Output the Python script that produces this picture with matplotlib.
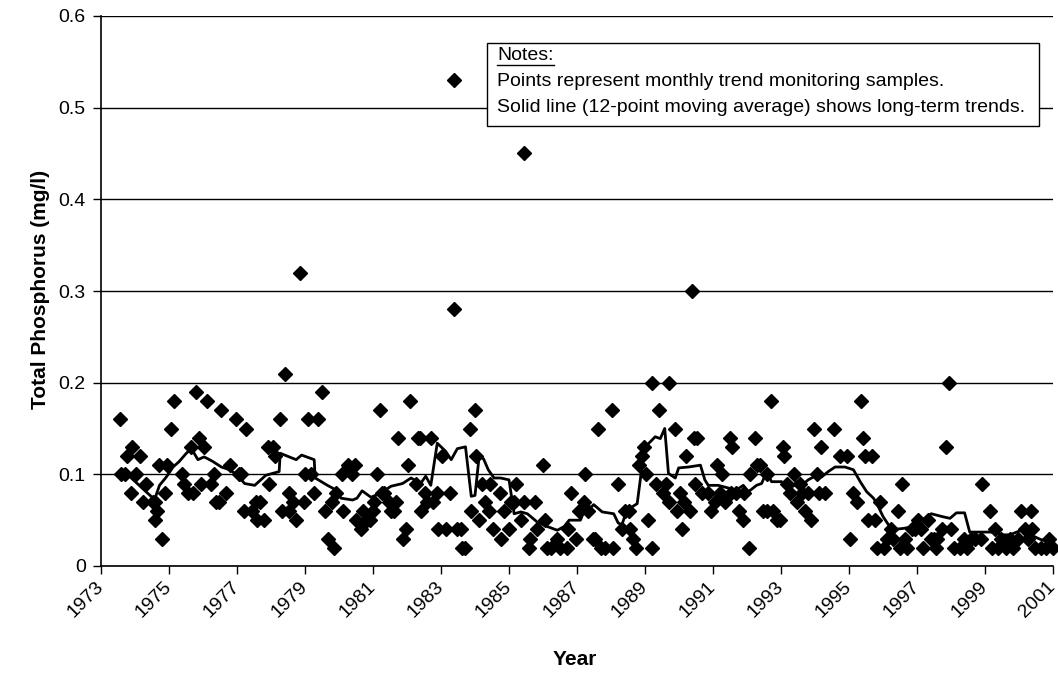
import matplotlib
matplotlib.use("Agg")
import matplotlib.pyplot as plt
from matplotlib.lines import Line2D

plt.rcParams['font.family'] = ['Liberation Sans', 'DejaVu Sans']

# monthly samples (decimal year, total phosphorus mg/l)
sample_year = [
    1973.56, 1973.58, 1973.71, 1973.77, 1973.87, 1973.91, 1974.04, 1974.14, 1974.24, 1974.33,
    1974.53, 1974.58, 1974.60, 1974.65, 1974.72, 1974.80, 1974.88, 1974.94, 1975.07, 1975.16,
    1975.38, 1975.44, 1975.56, 1975.66, 1975.70, 1975.79, 1975.88, 1975.95, 1976.03, 1976.11,
    1976.23, 1976.31, 1976.39, 1976.46, 1976.54, 1976.67, 1976.80, 1976.98, 1977.05, 1977.13,
    1977.20, 1977.26, 1977.44, 1977.57, 1977.60, 1977.68, 1977.80, 1977.90, 1977.95, 1978.05,
    1978.13, 1978.26, 1978.32, 1978.41, 1978.52, 1978.54, 1978.66, 1978.74, 1978.85, 1978.96,
    1979.01, 1979.08, 1979.18, 1979.27, 1979.37, 1979.51, 1979.60, 1979.68, 1979.79, 1979.86,
    1979.91, 1980.09, 1980.12, 1980.25, 1980.37, 1980.46, 1980.50, 1980.65, 1980.70, 1980.82,
    1980.91, 1980.99, 1981.03, 1981.11, 1981.21, 1981.26, 1981.33, 1981.48, 1981.53, 1981.63,
    1981.68, 1981.74, 1981.87, 1981.97, 1982.02, 1982.10, 1982.26, 1982.31, 1982.38, 1982.42,
    1982.53, 1982.60, 1982.70, 1982.77, 1982.89, 1982.91, 1983.04, 1983.14, 1983.26, 1983.37,
    1983.37, 1983.46, 1983.58, 1983.63, 1983.72, 1983.85, 1983.89, 1983.99, 1984.02, 1984.12,
    1984.21, 1984.29, 1984.41, 1984.44, 1984.54, 1985.45, 1984.73, 1984.75, 1984.85, 1985.00,
    1985.05, 1985.15, 1985.22, 1985.34, 1985.44, 1985.59, 1985.62, 1985.75, 1985.83, 1986.01,
    1986.05, 1986.13, 1986.23, 1986.42, 1986.50, 1986.71, 1986.74, 1986.81, 1986.97, 1987.07,
    1987.20, 1987.24, 1987.32, 1987.46, 1987.52, 1987.62, 1987.72, 1987.83, 1988.03, 1988.05,
    1988.21, 1988.32, 1988.42, 1988.54, 1988.57, 1988.64, 1988.74, 1988.81, 1988.91, 1988.96,
    1989.03, 1989.09, 1989.21, 1989.21, 1989.32, 1989.42, 1989.52, 1989.62, 1989.72, 1989.72,
    1989.89, 1989.94, 1990.02, 1990.09, 1990.14, 1990.21, 1990.33, 1990.38, 1990.43, 1990.48,
    1990.53, 1990.68, 1990.85, 1990.95, 1991.05, 1991.12, 1991.21, 1991.26, 1991.36, 1991.51,
    1991.54, 1991.56, 1991.69, 1991.77, 1991.87, 1991.91, 1992.07, 1992.09, 1992.24, 1992.28,
    1992.38, 1992.48, 1992.58, 1992.60, 1992.70, 1992.77, 1992.89, 1992.97, 1993.05, 1993.09,
    1993.19, 1993.26, 1993.38, 1993.46, 1993.56, 1993.61, 1993.71, 1993.80, 1993.87, 1993.97,
    1994.07, 1994.13, 1994.19, 1994.29, 1994.56, 1994.74, 1994.93, 1995.03, 1995.11, 1995.24,
    1995.34, 1995.42, 1995.47, 1995.57, 1995.67, 1995.76, 1995.83, 1995.91, 1996.03, 1996.11,
    1996.23, 1996.29, 1996.44, 1996.49, 1996.56, 1996.64, 1996.71, 1996.85, 1996.93, 1997.03,
    1997.13, 1997.18, 1997.32, 1997.40, 1997.51, 1997.57, 1997.60, 1997.74, 1997.86, 1997.94,
    1998.01, 1998.09, 1998.25, 1998.38, 1998.48, 1998.60, 1998.71, 1998.87, 1998.91, 1999.14,
    1999.20, 1999.30, 1999.38, 1999.48, 1999.63, 1999.73, 1999.82, 1999.97, 2000.05, 2000.17,
    2000.26, 2000.34, 2000.38, 2000.46, 2000.64, 2000.80, 2000.87, 2001.00,
]
sample_tp = [
    0.16, 0.10, 0.10, 0.12, 0.08, 0.13, 0.10, 0.12, 0.07, 0.09,
    0.07, 0.05, 0.07, 0.06, 0.11, 0.03, 0.08, 0.11, 0.15, 0.18,
    0.10, 0.09, 0.08, 0.13, 0.08, 0.19, 0.14, 0.09, 0.13, 0.18,
    0.09, 0.10, 0.07, 0.07, 0.17, 0.08, 0.11, 0.16, 0.10, 0.10,
    0.06, 0.15, 0.06, 0.07, 0.05, 0.07, 0.05, 0.13, 0.09, 0.13,
    0.12, 0.16, 0.06, 0.21, 0.06, 0.08, 0.07, 0.05, 0.32, 0.07,
    0.10, 0.16, 0.10, 0.08, 0.16, 0.19, 0.06, 0.03, 0.07, 0.02,
    0.08, 0.10, 0.06, 0.11, 0.10, 0.11, 0.05, 0.04, 0.06, 0.05,
    0.05, 0.06, 0.07, 0.10, 0.17, 0.08, 0.08, 0.07, 0.06, 0.06,
    0.07, 0.14, 0.03, 0.04, 0.11, 0.18, 0.09, 0.14, 0.14, 0.06,
    0.08, 0.07, 0.14, 0.07, 0.08, 0.04, 0.12, 0.04, 0.08, 0.53,
    0.28, 0.04, 0.04, 0.02, 0.02, 0.15, 0.06, 0.17, 0.12, 0.05,
    0.09, 0.07, 0.06, 0.09, 0.04, 0.45, 0.08, 0.03, 0.06, 0.04,
    0.07, 0.07, 0.09, 0.05, 0.07, 0.02, 0.03, 0.07, 0.04, 0.11,
    0.05, 0.02, 0.02, 0.03, 0.02, 0.02, 0.04, 0.08, 0.03, 0.06,
    0.07, 0.10, 0.06, 0.03, 0.03, 0.15, 0.02, 0.02, 0.17, 0.02,
    0.09, 0.04, 0.06, 0.06, 0.04, 0.03, 0.02, 0.11, 0.12, 0.13,
    0.10, 0.05, 0.02, 0.20, 0.09, 0.17, 0.08, 0.09, 0.20, 0.07,
    0.15, 0.06, 0.08, 0.04, 0.07, 0.12, 0.06, 0.30, 0.14, 0.09,
    0.14, 0.08, 0.08, 0.06, 0.07, 0.11, 0.08, 0.10, 0.07, 0.14,
    0.08, 0.13, 0.08, 0.06, 0.05, 0.08, 0.02, 0.10, 0.14, 0.11,
    0.11, 0.06, 0.06, 0.10, 0.18, 0.06, 0.05, 0.05, 0.13, 0.12,
    0.09, 0.08, 0.10, 0.07, 0.09, 0.08, 0.06, 0.08, 0.05, 0.15,
    0.10, 0.08, 0.13, 0.08, 0.15, 0.12, 0.12, 0.03, 0.08, 0.07,
    0.18, 0.14, 0.12, 0.05, 0.12, 0.05, 0.02, 0.07, 0.02, 0.03,
    0.04, 0.03, 0.06, 0.02, 0.09, 0.03, 0.02, 0.04, 0.04, 0.05,
    0.04, 0.02, 0.05, 0.03, 0.03, 0.02, 0.03, 0.04, 0.13, 0.20,
    0.04, 0.02, 0.02, 0.03, 0.02, 0.03, 0.03, 0.03, 0.09, 0.06,
    0.02, 0.04, 0.02, 0.03, 0.02, 0.03, 0.02, 0.03, 0.06, 0.04,
    0.03, 0.06, 0.04, 0.02, 0.02, 0.02, 0.03, 0.02,
]

# 12-point moving average as drawn
avg_year = [
    1973.89, 1974.53, 1974.60, 1974.72, 1974.92, 1975.12, 1975.30, 1975.51, 1975.66, 1975.85,
    1976.03, 1976.14, 1976.29, 1976.54, 1976.78, 1977.03, 1977.22, 1977.52, 1977.85, 1978.24,
    1978.27, 1978.54, 1978.74, 1978.90, 1979.27, 1979.30, 1979.66, 1979.91, 1980.06, 1980.40,
    1980.53, 1980.68, 1980.94, 1981.20, 1981.53, 1981.87, 1982.12, 1982.40, 1982.55, 1982.70,
    1982.89, 1983.14, 1983.30, 1983.48, 1983.72, 1983.89, 1984.00, 1984.12, 1984.25, 1984.39,
    1984.56, 1984.75, 1985.00, 1985.15, 1985.35, 1985.54, 1985.83, 1986.13, 1986.42, 1986.62,
    1986.77, 1987.10, 1987.20, 1987.39, 1987.49, 1987.74, 1988.08, 1988.21, 1988.32, 1988.47,
    1988.77, 1988.91, 1989.01, 1989.30, 1989.45, 1989.58, 1989.69, 1989.89, 1989.99, 1990.28,
    1990.63, 1990.76, 1990.86, 1991.15, 1991.46, 1991.69, 1991.89, 1992.04, 1992.28, 1992.43,
    1992.58, 1992.72, 1993.02, 1993.16, 1993.36, 1993.46, 1993.61, 1993.80, 1994.05, 1994.19,
    1994.39, 1994.59, 1994.88, 1995.13, 1995.33, 1995.52, 1995.72, 1995.86, 1996.00, 1996.16,
    1996.34, 1996.60, 1996.90, 1997.15, 1997.42, 1997.73, 1997.97, 1998.16, 1998.40, 1998.55,
    1999.19, 1999.53, 1999.73, 2000.00, 2000.25, 2000.34, 2000.63, 2001.00,
]
avg_tp = [
    0.096, 0.074, 0.075, 0.088, 0.097, 0.108, 0.114, 0.123, 0.128, 0.116,
    0.119, 0.117, 0.114, 0.108, 0.105, 0.099, 0.090, 0.088, 0.099, 0.103,
    0.123, 0.119, 0.116, 0.121, 0.116, 0.096, 0.088, 0.083, 0.074, 0.072,
    0.074, 0.082, 0.075, 0.079, 0.087, 0.090, 0.096, 0.090, 0.098, 0.088,
    0.134, 0.125, 0.116, 0.128, 0.130, 0.076, 0.077, 0.119, 0.117, 0.105,
    0.096, 0.096, 0.094, 0.057, 0.059, 0.057, 0.048, 0.043, 0.039, 0.043,
    0.050, 0.050, 0.059, 0.063, 0.067, 0.059, 0.057, 0.047, 0.045, 0.061,
    0.068, 0.108, 0.130, 0.141, 0.139, 0.150, 0.101, 0.096, 0.107, 0.108,
    0.110, 0.094, 0.088, 0.088, 0.085, 0.083, 0.088, 0.081, 0.088, 0.090,
    0.103, 0.092, 0.092, 0.087, 0.087, 0.092, 0.088, 0.094, 0.099, 0.097,
    0.103, 0.108, 0.108, 0.105, 0.092, 0.081, 0.074, 0.065, 0.054, 0.045,
    0.040, 0.041, 0.043, 0.050, 0.057, 0.054, 0.052, 0.058, 0.058, 0.037,
    0.037, 0.034, 0.034, 0.038, 0.040, 0.034, 0.029, 0.025,
]

year_ticks = list(range(1973, 2002, 2))
tp_ticks = [0, 0.1, 0.2, 0.3, 0.4, 0.5, 0.6]
tp_labels = ["0", "0.1", "0.2", "0.3", "0.4", "0.5", "0.6"]

fig = plt.figure(figsize=(10.58, 6.74), dpi=100)
ax = fig.add_axes([101 / 1058, 108 / 674, 952 / 1058, 550 / 674])

ax.plot(sample_year, sample_tp, linestyle="none", marker="D", markersize=6.8,
        color="black", zorder=3, clip_on=False)
ax.plot(avg_year, avg_tp, color="black", linewidth=2.0, zorder=4)

ax.set_xlim(1973, 2001)
ax.set_ylim(0, 0.6)
ax.set_xticks(year_ticks)
ax.set_xticklabels([str(y) for y in year_ticks], rotation=45, ha="right", va="center",
                   rotation_mode="anchor", fontsize=14)
ax.set_yticks(tp_ticks)
ax.set_yticklabels(tp_labels, fontsize=14)
ax.tick_params(direction="out", length=6, width=1, color="black")
ax.tick_params(axis="x", pad=7)
ax.tick_params(axis="y", pad=5)
ax.yaxis.grid(True, color="black", linewidth=1)
ax.set_axisbelow(True)
for side in ("top", "right"):
    ax.spines[side].set_visible(False)
for side in ("left", "bottom"):
    ax.spines[side].set_linewidth(1.2)

ax.set_xlabel("Year", fontsize=15, fontweight="bold")
ax.set_ylabel("Total Phosphorus (mg/l)", fontsize=15, fontweight="bold")
ax.xaxis.set_label_coords(0.498, -0.153)
ax.yaxis.set_label_coords(-0.054, 0.502)

# notes box
box = plt.Rectangle((487 / 1058, 1 - 126 / 674), 552 / 1058, 83 / 674,
                    transform=fig.transFigure, facecolor="white", edgecolor="black",
                    linewidth=1, zorder=5)
fig.patches.append(box)
notes = fig.text(497 / 1058, 1 - 55 / 674, "Notes:", fontsize=14, va="center", zorder=6)
fig.text(497 / 1058, 1 - 81 / 674, "Points represent monthly trend monitoring samples.",
         fontsize=14, va="center", zorder=6)
fig.text(497 / 1058, 1 - 107 / 674, "Solid line (12-point moving average) shows long-term trends.",
         fontsize=14, va="center", zorder=6)

fig.canvas.draw()
bb = notes.get_window_extent()
fig.lines.append(Line2D([bb.x0, bb.x1], [bb.y0 - 1, bb.y0 - 1], color="black",
                        linewidth=1, transform=None, zorder=6))

fig.savefig("out.png", dpi=100)
